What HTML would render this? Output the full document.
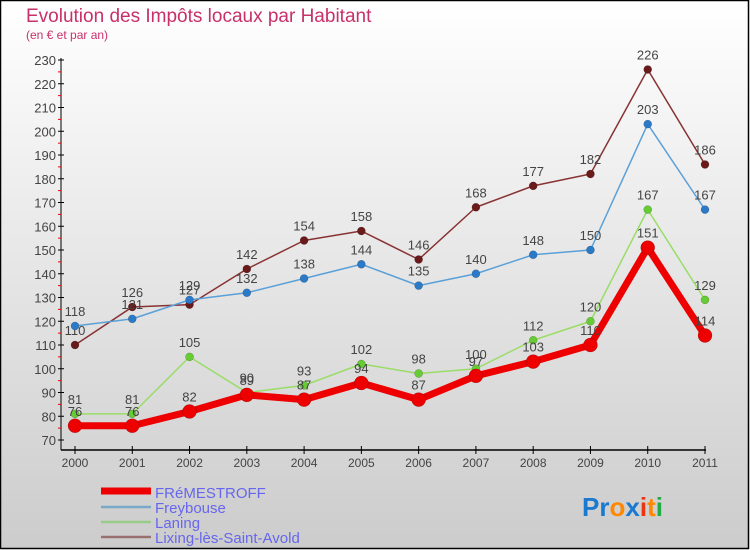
<!DOCTYPE html>
<html><head><meta charset="utf-8"><style>
body{margin:0;width:750px;height:550px;overflow:hidden;font-family:"Liberation Sans",sans-serif}
svg{display:block}
</style></head><body>
<svg width="750" height="550" id="c">
<defs><linearGradient id="bg" x1="0" y1="0" x2="0" y2="1"><stop offset="0" stop-color="#ffffff"/><stop offset="1" stop-color="#cccccc"/></linearGradient></defs>
<rect x="0.5" y="0.5" width="748" height="548" fill="url(#bg)" stroke="#000" stroke-width="1.5"/>
<text x="26" y="22" font-size="19" fill="#c8306a">Evolution des Impôts locaux par Habitant</text>
<text x="26" y="39" font-size="12" fill="#c8306a">(en € et par an)</text>
<g id="axes"></g><g id="series"></g>
<g>
<line x1="101" y1="491" x2="151" y2="491" stroke="#ee0000" stroke-width="7"/>
<text x="155" y="498" font-size="15" fill="#6666ee">FRéMESTROFF</text>
<line x1="101" y1="507" x2="151" y2="507" stroke="#7aa8c8" stroke-width="2.5"/>
<text x="155" y="513" font-size="15" fill="#6666ee">Freybouse</text>
<line x1="101" y1="522" x2="151" y2="522" stroke="#99cc88" stroke-width="2.5"/>
<text x="155" y="528" font-size="15" fill="#6666ee">Laning</text>
<line x1="101" y1="537" x2="151" y2="537" stroke="#997070" stroke-width="2.5"/>
<text x="155" y="543" font-size="15" fill="#6666ee">Lixing-lès-Saint-Avold</text>
</g>
<text x="582" y="516" font-size="26" font-weight="bold"><tspan fill="#1a7ad0">Pr</tspan><tspan fill="#ff8800">o</tspan><tspan fill="#1a7ad0">x</tspan><tspan fill="#ee3311">i</tspan><tspan fill="#ff8800">t</tspan><tspan fill="#22aa44">i</tspan></text>
</svg>
<script>
const years=["2000","2001","2002","2003","2004","2005","2006","2007","2008","2009","2010","2011"];
const fremestroff=[76,76,82,89,87,94,87,97,103,110,151,114];
const freybouse=[118,121,129,132,138,144,135,140,148,150,203,167];
const laning=[81,81,105,90,93,102,98,100,112,120,167,129];
const lixing=[110,126,127,142,154,158,146,168,177,182,226,186];
const yTicks=[70,80,90,100,110,120,130,140,150,160,170,180,190,200,210,220,230];
const NS="http://www.w3.org/2000/svg";
const xs=i=>75+i*(630/11);
const ys=v=>440-(v-70)*2.375;
function mk(tag,attrs,parent){const e=document.createElementNS(NS,tag);for(const k in attrs)e.setAttribute(k,attrs[k]);parent.appendChild(e);return e;}
const ax=document.getElementById('axes');
let yl=mk('line',{x1:61,y1:58,x2:61,y2:450,stroke:'#000','stroke-width':1},ax);


let xl=mk('line',{x1:61,y1:450,x2:706,y2:450,stroke:'#000','stroke-width':1.5},ax);


yTicks.forEach((t,i)=>{
  const y=ys(t);
  mk('line',{x1:58,y1:y,x2:64,y2:y,stroke:'#000'},ax);
  if(i<yTicks.length-1){mk('line',{x1:58,y1:y-11.875,x2:61,y2:y-11.875,stroke:'#e00'},ax);}
  const tx=mk('text',{x:56,y:y+5,'font-size':13,fill:'#444','text-anchor':'end'},ax);
  tx.textContent=t;
  
  
});
years.forEach((yr,i)=>{
  const x=xs(i);
  mk('line',{x1:x,y1:446,x2:x,y2:454,stroke:'#000'},ax);
  const tx=mk('text',{x:x,y:467,'font-size':12,fill:'#444','text-anchor':'middle'},ax);
  tx.textContent=yr;
  
  
});
const sg=document.getElementById('series');
function series(name,data,color,dot,w,r){
  const g=mk('g',{},sg);
  
  
  const pts=data.map((v,i)=>xs(i)+','+ys(v)).join(' ');
  mk('polyline',{points:pts,fill:'none',stroke:color,'stroke-width':w,'stroke-linejoin':'round'},g);
  data.forEach((v,i)=>{
    const c=mk('circle',{cx:xs(i),cy:ys(v),r:r,fill:dot,stroke:'rgba(0,0,0,0.3)','stroke-width':0.5},g);
    
    
    const t=mk('text',{x:xs(i),y:ys(v)-10,'font-size':13,fill:'#444','text-anchor':'middle'},g);
    t.textContent=v;
  });
}
series('lixing',lixing,'#883333','#6a1a1a',1.5,4);
series('freybouse',freybouse,'#5aa0d8','#2a7ac8',1.5,4);
series('laning',laning,'#99dd66','#66cc33',1.5,4);
series('fremestroff',fremestroff,'#ee0000','#ee0000',7,7);
</script>
</body></html>
